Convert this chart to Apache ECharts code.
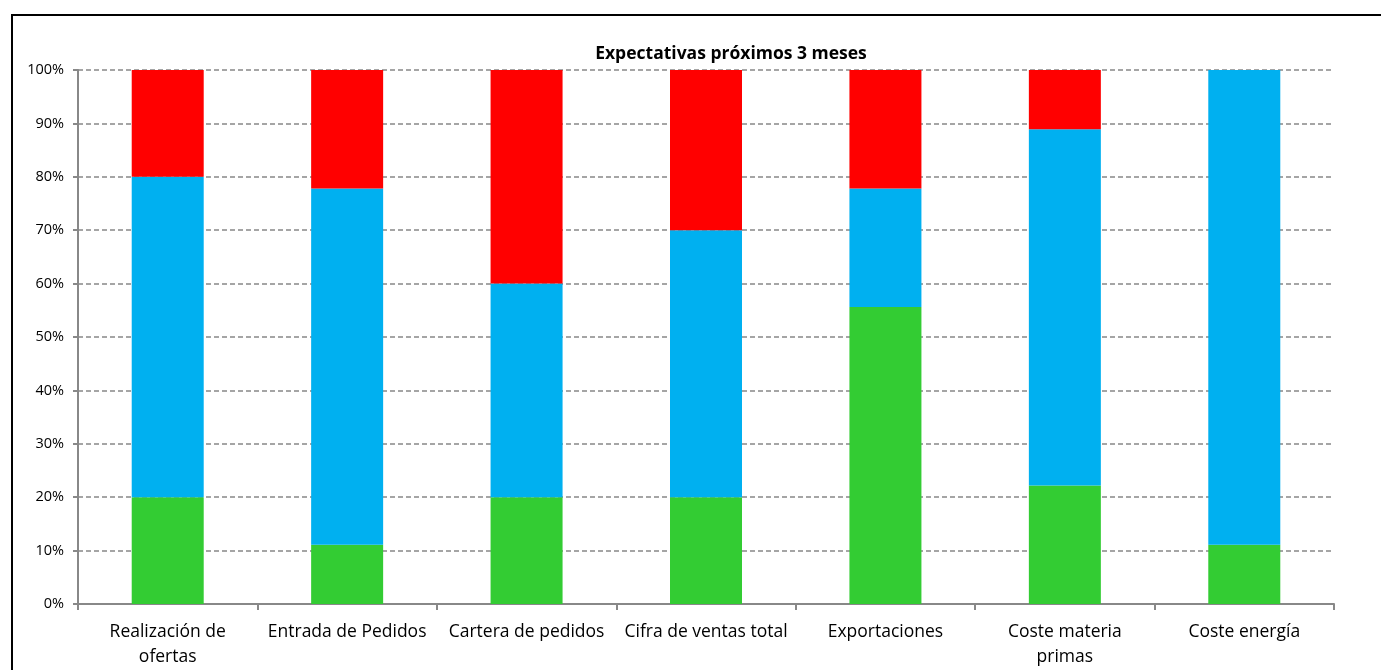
<!DOCTYPE html>
<html>
<head>
<meta charset="utf-8">
<script src="https://cdn.jsdelivr.net/npm/echarts@6/dist/echarts.min.js"></script>
<style>
  html, body { margin: 0; padding: 0; background: #fff; }
  #frame {
    position: absolute; left: 11px; top: 14px; width: 1380px; height: 700px;
    border: 2px solid #000; box-sizing: border-box;
  }
  #main { position: absolute; left: 0; top: 0; width: 1381px; height: 670px; }
</style>
</head>
<body>
<div id="frame"></div>
<div id="main"></div>
<script>
// categorías y porcentajes
var categorias = ["Realización de\nofertas", "Entrada de Pedidos", "Cartera de pedidos",
  "Cifra de ventas total", "Exportaciones", "Coste materia\nprimas", "Coste energía"];
var verde = [20, 11.1, 20, 20, 55.6, 22.2, 11.1];
var azul = [60, 66.7, 40, 50, 22.2, 66.7, 88.9];
var rojo = [20, 22.2, 40, 30, 22.2, 11.1, 0];

var myChart = echarts.init(document.getElementById("main"));

var option = {
  animation: false,
  title: {
    text: "Expectativas próximos 3 meses",
    left: 726,
    textAlign: "center",
    top: 40,
    textStyle: { fontFamily: "Open Sans", fontSize: 17.5, fontWeight: "bold", color: "#000" },
  },
  grid: { left: 78, right: 47, top: 70, bottom: 64, containLabel: false },
  xAxis: {
    type: "category",
    data: categorias,
    axisLine: { lineStyle: { color: "#888", width: 2 } },
    axisTick: { show: true, length: 6, lineStyle: { color: "#888", width: 2 } },
    axisLabel: {
      interval: 0, color: "#000", fontFamily: "Open Sans", fontSize: 17.5,
      lineHeight: 25, margin: 16,
    },
  },
  yAxis: {
    type: "value",
    min: 0, max: 100, interval: 10,
    axisLine: { show: true, lineStyle: { color: "#888", width: 2 } },
    axisTick: { show: true, length: 5, lineStyle: { color: "#888", width: 2 } },
    axisLabel: {
      formatter: "{value}%", color: "#000", fontFamily: "Open Sans", fontSize: 14.5, margin: 14,
    },
    splitLine: { lineStyle: { color: "#888", type: [5, 3], width: 1.5 } },
  },
  series: [
    { name: "verde", type: "bar", stack: "t", data: verde, barWidth: 72,
      itemStyle: { color: "#33CC33" } },
    { name: "azul", type: "bar", stack: "t", data: azul, barWidth: 72,
      itemStyle: { color: "#00B0F0" } },
    { name: "rojo", type: "bar", stack: "t", data: rojo, barWidth: 72,
      itemStyle: { color: "#FF0000" } },
  ],
};

option && myChart.setOption(option);
</script>
</body>
</html>
